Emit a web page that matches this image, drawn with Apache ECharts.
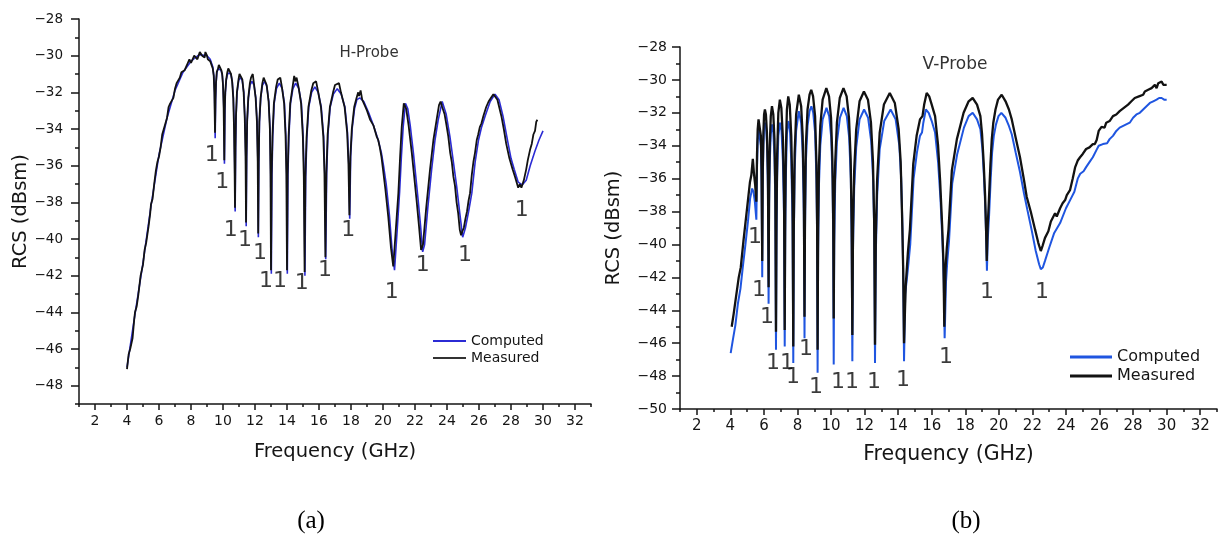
<!DOCTYPE html>
<html>
<head>
<meta charset="utf-8">
<script src="https://cdn.jsdelivr.net/npm/echarts@6/dist/echarts.min.js"></script>
<style>html,body{margin:0;padding:0;background:#fff}#c{width:1224px;height:548px}</style>
</head>
<body>
<div id="c"></div>
<script>
// ---------- data ----------
const xMajorTicks = [2,4,6,8,10,12,14,16,18,20,22,24,26,28,30,32];
const xMinorTicks = [1,3,5,7,9,11,13,15,17,19,21,23,25,27,29,31,33];
const hYMajorTicks = [-48,-46,-44,-42,-40,-38,-36,-34,-32,-30,-28];
const hYMinorTicks = [-49,-47,-45,-43,-41,-39,-37,-35,-33,-31,-29];
const vYMajorTicks = [-50,-48,-46,-44,-42,-40,-38,-36,-34,-32,-30,-28];
const vYMinorTicks = [-49,-47,-45,-43,-41,-39,-37,-35,-33,-31,-29];

// H-Probe computed [GHz, dBsm]
const hComputed = [[4.0,-47.0],[4.5,-44.1],[5.0,-41.3],[5.5,-38.2],[6.0,-35.4],[6.5,-33.4],[7.0,-31.9],[7.5,-30.9],[8.0,-30.3],[8.5,-29.95],[9.0,-30.0],[9.2,-30.2],[9.36,-30.6],[9.43,-31.1],[9.47,-32.0],[9.51,-34.5],
[9.54,-32.4],[9.57,-31.5],[9.62,-30.9],[9.7,-30.7],[9.79,-30.7],[9.88,-30.8],[9.96,-31.1],[10.01,-31.7],[10.05,-32.9],[10.09,-35.9],
[10.12,-33.0],[10.15,-32.0],[10.21,-31.3],[10.3,-30.95],[10.39,-30.9],[10.49,-31.0],[10.58,-31.4],[10.65,-32.3],[10.7,-34.0],[10.73,-35.9],[10.76,-38.5],
[10.79,-35.0],[10.82,-33.3],[10.88,-32.0],[10.98,-31.35],[11.09,-31.2],[11.2,-31.35],[11.3,-32.0],[11.37,-33.4],[11.42,-35.5],[11.45,-39.3],
[11.48,-35.5],[11.52,-33.5],[11.59,-32.3],[11.69,-31.6],[11.81,-31.4],[11.94,-31.6],[12.05,-32.3],[12.13,-33.6],[12.18,-35.8],[12.21,-39.9],
[12.24,-35.8],[12.28,-33.6],[12.36,-32.3],[12.47,-31.6],[12.61,-31.4],[12.74,-31.7],[12.86,-32.5],[12.94,-34.0],[12.98,-36.5],[13.02,-41.9],
[13.06,-36.5],[13.11,-34.4],[13.2,-32.6],[13.34,-31.8],[13.52,-31.5],[13.7,-31.8],[13.84,-32.6],[13.93,-34.4],[13.98,-36.5],[14.02,-41.9],
[14.06,-36.5],[14.12,-34.4],[14.22,-32.6],[14.37,-31.8],[14.54,-31.5],[14.74,-31.8],[14.9,-32.6],[15.01,-34.4],[15.07,-36.6],[15.12,-42.0],
[15.17,-36.6],[15.24,-34.5],[15.36,-32.8],[15.54,-32.0],[15.74,-31.7],[15.95,-32.0],[16.14,-32.8],[16.29,-34.4],[16.36,-36.4],[16.42,-41.1],
[16.48,-36.4],[16.56,-34.3],[16.7,-32.8],[16.9,-32.1],[17.14,-31.8],[17.39,-32.1],[17.62,-32.8],[17.78,-34.2],[17.86,-35.9],[17.92,-38.9],
[17.98,-35.5],[18.07,-34.0],[18.22,-32.9],[18.37,-32.4],[18.55,-32.3],[18.8,-32.5],[19.1,-33.1],[19.4,-33.8],[19.7,-34.6],[19.9,-35.3],[20.05,-36.1],[20.2,-37.0],[20.4,-38.7],[20.56,-40.5],[20.72,-41.7],
[20.88,-39.6],[21.04,-37.4],[21.15,-35.5],[21.26,-33.9],[21.4,-32.6],[21.55,-32.9],[21.7,-33.8],[21.9,-35.3],[22.05,-36.6],[22.2,-37.9],[22.35,-39.3],[22.48,-40.7],[22.6,-40.3],[22.8,-38.3],[23.04,-36.2],[23.25,-34.6],[23.45,-33.5],[23.7,-32.5],[23.95,-33.2],[24.18,-34.4],[24.4,-35.8],[24.6,-37.1],[24.8,-38.6],[24.98,-39.9],[25.15,-39.4],[25.35,-38.5],[25.55,-37.5],[25.76,-35.8],[25.97,-34.6],[26.16,-33.9],[26.38,-33.3],[26.7,-32.5],[27.0,-32.1],[27.25,-32.4],[27.5,-33.3],[27.8,-34.7],[28.0,-35.6],[28.2,-36.2],[28.45,-36.9],[28.7,-37.05],[28.95,-36.8],[29.2,-36.0],[29.5,-35.2],[29.75,-34.6],[30.0,-34.1]];

// H-Probe measured
const hMeasured = [[4.0,-47.1],[4.1,-46.3],[4.2,-46.0],[4.35,-45.4],[4.45,-44.4],[4.5,-44.0],[4.6,-43.7],[4.7,-43.1],[4.85,-42.0],[4.92,-41.9],[5.0,-41.4],[5.1,-40.6],[5.2,-40.2],[5.35,-39.3],[5.45,-38.6],[5.5,-38.1],[5.6,-37.8],[5.7,-37.0],[5.8,-36.3],[5.9,-35.8],[6.0,-35.5],[6.1,-35.0],[6.2,-34.3],[6.3,-34.0],[6.4,-33.7],[6.5,-33.4],[6.6,-32.8],[6.7,-32.6],[6.8,-32.5],[6.9,-32.3],[7.0,-31.8],[7.1,-31.5],[7.2,-31.4],[7.3,-31.2],[7.4,-30.9],[7.5,-30.8],[7.6,-30.8],[7.7,-30.6],[7.8,-30.4],[7.9,-30.2],[8.0,-30.4],[8.1,-30.3],[8.2,-30.0],[8.3,-29.9],[8.4,-30.2],[8.45,-30.1],[8.55,-29.8],[8.6,-29.7],[8.7,-30.0],[8.75,-29.9],[8.85,-30.1],[8.9,-29.8],[9.0,-30.0],[9.05,-30.2],[9.15,-30.1],[9.2,-30.3],[9.3,-30.4],[9.36,-30.7],[9.42,-31.1],[9.46,-32.0],[9.5,-34.2],
[9.53,-32.4],[9.56,-31.5],[9.61,-30.9],[9.69,-30.7],[9.74,-30.5],[9.78,-30.6],[9.84,-30.5],[9.9,-30.8],[9.95,-31.0],[10.0,-31.6],[10.04,-32.8],[10.08,-35.7],
[10.11,-33.0],[10.14,-32.0],[10.2,-31.3],[10.27,-30.9],[10.33,-30.7],[10.38,-30.8],[10.44,-30.7],[10.5,-31.0],[10.57,-31.4],[10.64,-32.3],[10.69,-34.0],[10.72,-35.8],[10.75,-38.3],
[10.78,-35.0],[10.81,-33.3],[10.87,-32.0],[10.97,-31.3],[11.03,-31.0],[11.08,-31.1],[11.14,-30.9],[11.21,-31.3],[11.29,-32.0],[11.36,-33.4],[11.41,-35.5],[11.44,-39.1],
[11.47,-35.5],[11.51,-33.5],[11.58,-32.3],[11.68,-31.5],[11.75,-31.2],[11.8,-31.3],[11.86,-31.0],[11.93,-31.5],[12.04,-32.3],[12.12,-33.6],[12.17,-35.8],[12.2,-39.7],
[12.23,-35.8],[12.27,-33.6],[12.35,-32.3],[12.46,-31.5],[12.54,-31.2],[12.6,-31.3],[12.66,-31.1],[12.73,-31.6],[12.85,-32.5],[12.93,-34.0],[12.97,-36.5],[13.0,-41.7],
[13.04,-36.5],[13.09,-34.4],[13.18,-32.6],[13.32,-31.7],[13.42,-31.3],[13.5,-31.4],[13.58,-31.2],[13.68,-31.7],[13.82,-32.6],[13.91,-34.4],[13.96,-36.5],[14.0,-41.7],
[14.04,-36.5],[14.1,-34.4],[14.2,-32.6],[14.35,-31.7],[14.45,-31.1],[14.52,-31.4],[14.6,-31.2],[14.72,-31.7],[14.88,-32.6],[14.99,-34.4],[15.05,-36.6],[15.1,-41.8],
[15.15,-36.6],[15.22,-34.5],[15.34,-32.8],[15.52,-31.9],[15.64,-31.5],[15.72,-31.6],[15.82,-31.4],[15.93,-31.9],[16.12,-32.8],[16.27,-34.4],[16.34,-36.4],[16.4,-41.0],
[16.46,-36.4],[16.54,-34.3],[16.68,-32.8],[16.88,-32.0],[17.0,-31.6],[17.12,-31.7],[17.25,-31.5],[17.37,-32.0],[17.6,-32.8],[17.76,-34.2],[17.84,-35.9],[17.9,-38.7],
[17.96,-35.5],[18.05,-34.0],[18.2,-32.8],[18.35,-32.3],[18.45,-32.0],[18.5,-32.2],[18.6,-31.9],[18.7,-32.4],[18.8,-32.3],[18.9,-32.8],[19.0,-33.0],[19.1,-32.9],[19.2,-33.5],[19.3,-33.4],[19.4,-33.8],[19.5,-34.1],[19.6,-34.4],[19.7,-34.6],[19.8,-35.0],[19.9,-35.5],[20.0,-36.2],[20.15,-37.3],[20.33,-38.8],[20.5,-40.5],[20.64,-41.5],
[20.8,-39.5],[20.96,-37.5],[21.07,-35.5],[21.17,-33.9],[21.3,-32.6],[21.38,-32.7],[21.45,-32.9],[21.6,-33.8],[21.8,-35.3],[21.95,-36.6],[22.1,-37.9],[22.25,-39.3],[22.38,-40.6],[22.5,-40.3],[22.7,-38.3],[22.94,-36.2],[23.15,-34.6],[23.35,-33.5],[23.5,-32.7],[23.6,-32.5],[23.7,-32.8],[23.85,-33.2],[23.95,-33.7],[24.08,-34.4],[24.2,-35.3],[24.3,-35.8],[24.4,-36.6],[24.5,-37.1],[24.6,-38.0],[24.7,-38.6],[24.8,-39.5],[24.88,-39.8],[24.95,-39.6],[25.05,-39.4],[25.15,-38.9],[25.25,-38.5],[25.35,-37.9],[25.44,-37.5],[25.55,-36.5],[25.65,-35.8],[25.75,-35.3],[25.86,-34.6],[25.95,-34.3],[26.05,-33.9],[26.15,-33.7],[26.27,-33.3],[26.45,-32.8],[26.6,-32.5],[26.75,-32.3],[26.9,-32.1],[27.0,-32.2],[27.15,-32.4],[27.4,-33.3],[27.55,-34.0],[27.7,-34.8],[27.9,-35.6],[28.1,-36.2],[28.25,-36.6],[28.35,-36.9],[28.45,-37.2],[28.55,-37.0],[28.65,-37.2],[28.8,-36.8],[28.95,-36.2],[29.05,-35.7],[29.2,-35.1],[29.3,-34.8],[29.4,-34.3],[29.5,-34.1],[29.58,-33.6],[29.65,-33.5]];

// V-Probe computed
const vComputed = [[4.02,-46.6],[4.15,-45.8],[4.3,-44.9],[4.45,-43.6],[4.6,-42.7],[4.75,-41.3],[4.9,-40.0],[5.05,-38.6],[5.18,-37.2],[5.3,-36.6],[5.38,-36.8],[5.46,-37.4],[5.55,-38.5],
[5.59,-35.3],[5.63,-33.7],[5.68,-33.0],[5.72,-32.9],[5.77,-33.1],[5.82,-34.0],[5.86,-36.2],[5.9,-42.0],
[5.93,-36.3],[5.97,-34.0],[6.01,-32.9],[6.07,-32.6],[6.13,-32.9],[6.19,-34.0],[6.24,-36.6],[6.28,-43.6],
[6.31,-37.5],[6.35,-35.0],[6.41,-33.3],[6.49,-32.7],[6.56,-33.2],[6.63,-34.7],[6.68,-37.5],[6.72,-46.4],
[6.75,-39.6],[6.79,-35.9],[6.86,-33.4],[6.96,-32.6],[7.05,-33.1],[7.13,-34.9],[7.2,-38.3],[7.24,-46.2],
[7.27,-39.3],[7.31,-35.8],[7.37,-33.3],[7.46,-32.5],[7.55,-33.0],[7.63,-34.9],[7.71,-38.8],[7.75,-47.2],
[7.78,-40.0],[7.83,-35.5],[7.92,-33.1],[8.08,-31.9],[8.22,-32.6],[8.31,-34.4],[8.38,-38.2],[8.42,-45.7],
[8.45,-39.0],[8.5,-35.0],[8.6,-32.8],[8.72,-31.9],[8.83,-31.6],[8.94,-32.0],[9.05,-33.2],[9.13,-36.0],[9.17,-39.5],[9.2,-47.8],
[9.23,-40.5],[9.28,-36.4],[9.36,-34.0],[9.5,-32.4],[9.73,-31.7],[9.89,-32.2],[10.01,-33.5],[10.09,-36.0],[10.13,-39.8],[10.16,-47.3],
[10.19,-40.0],[10.25,-36.2],[10.35,-33.8],[10.53,-32.3],[10.75,-31.7],[10.94,-32.2],[11.08,-33.5],[11.18,-36.0],[11.23,-40.0],[11.27,-47.1],
[11.31,-40.2],[11.38,-36.6],[11.5,-34.1],[11.7,-32.4],[11.97,-31.8],[12.21,-32.3],[12.39,-33.7],[12.51,-36.1],[12.58,-39.6],[12.62,-47.2],
[12.67,-40.5],[12.75,-37.0],[12.9,-34.2],[13.17,-32.5],[13.55,-31.8],[13.85,-32.4],[14.07,-34.0],[14.18,-36.0],[14.26,-39.1],[14.31,-42.5],[14.35,-47.1],
[14.42,-43.0],[14.58,-41.5],[14.72,-40.0],[14.92,-36.0],[15.12,-34.4],[15.3,-33.4],[15.42,-33.2],[15.5,-32.6],[15.65,-31.8],[15.82,-32.0],[16.0,-32.5],[16.2,-33.2],[16.38,-35.0],[16.52,-37.2],[16.64,-39.8],[16.72,-42.3],[16.77,-45.7],
[16.85,-42.3],[16.93,-41.0],[17.03,-39.8],[17.22,-36.3],[17.52,-34.5],[17.92,-32.9],[18.2,-32.2],[18.44,-32.0],[18.7,-32.4],[18.9,-33.0],[19.02,-34.2],[19.12,-36.0],[19.2,-38.0],[19.25,-39.8],[19.29,-41.6],[19.34,-39.7],[19.42,-38.2],[19.52,-35.9],[19.6,-34.4],[19.7,-33.4],[19.83,-32.7],[19.98,-32.2],[20.15,-32.0],[20.4,-32.3],[20.6,-32.8],[20.77,-33.3],[21.0,-34.4],[21.26,-35.6],[21.5,-36.9],[21.7,-37.9],[21.95,-39.1],[22.2,-40.4],[22.4,-41.2],[22.5,-41.5],[22.62,-41.4],[22.75,-41.0],[23.0,-40.2],[23.3,-39.3],[23.65,-38.7],[24.0,-37.8],[24.3,-37.2],[24.5,-36.8],[24.7,-36.0],[24.85,-35.7],[25.05,-35.55],[25.2,-35.3],[25.4,-35.0],[25.6,-34.7],[25.8,-34.3],[25.95,-34.0],[26.2,-33.9],[26.45,-33.85],[26.6,-33.6],[26.8,-33.4],[27.0,-33.1],[27.2,-32.9],[27.5,-32.75],[27.8,-32.6],[28.0,-32.3],[28.2,-32.1],[28.4,-32.0],[28.6,-31.8],[28.8,-31.6],[29.0,-31.4],[29.2,-31.3],[29.4,-31.2],[29.55,-31.1],[29.7,-31.1],[29.85,-31.2],[30.0,-31.2]];

// V-Probe measured
const vMeasured = [[4.08,-45.0],[4.2,-44.2],[4.35,-43.1],[4.5,-42.0],[4.62,-41.4],[4.78,-39.8],[4.92,-38.5],[5.05,-37.3],[5.17,-36.2],[5.25,-35.8],[5.34,-34.8],[5.4,-35.6],[5.48,-36.4],[5.55,-37.4],
[5.59,-34.5],[5.63,-33.0],[5.68,-32.4],[5.72,-32.3],[5.77,-32.5],[5.82,-33.4],[5.86,-35.5],[5.9,-41.0],
[5.93,-35.5],[5.97,-33.2],[6.01,-32.1],[6.06,-31.8],[6.12,-32.1],[6.18,-33.2],[6.24,-35.8],[6.28,-42.6],
[6.31,-36.5],[6.35,-34.0],[6.41,-32.2],[6.48,-31.6],[6.56,-32.1],[6.63,-33.6],[6.68,-36.5],[6.72,-45.3],
[6.75,-38.5],[6.79,-34.5],[6.86,-32.0],[6.95,-31.2],[7.04,-31.7],[7.13,-33.5],[7.2,-37.0],[7.24,-45.2],
[7.27,-38.0],[7.31,-34.3],[7.37,-31.8],[7.45,-31.0],[7.54,-31.5],[7.63,-33.4],[7.71,-37.5],[7.75,-46.2],
[7.78,-39.0],[7.83,-34.5],[7.92,-32.1],[8.08,-30.9],[8.22,-31.6],[8.31,-33.4],[8.38,-37.0],[8.42,-44.4],
[8.45,-38.0],[8.5,-34.0],[8.6,-31.8],[8.72,-30.9],[8.82,-30.6],[8.93,-31.0],[9.05,-32.2],[9.13,-35.0],[9.17,-38.5],[9.2,-46.4],
[9.23,-39.0],[9.28,-35.2],[9.36,-32.8],[9.5,-31.2],[9.72,-30.5],[9.88,-31.0],[10.0,-32.3],[10.08,-34.8],[10.13,-38.5],[10.16,-44.5],
[10.19,-38.0],[10.25,-35.0],[10.35,-32.6],[10.52,-31.1],[10.74,-30.5],[10.93,-31.0],[11.07,-32.3],[11.17,-34.8],[11.23,-38.8],[11.27,-45.5],
[11.31,-39.0],[11.38,-35.5],[11.5,-33.0],[11.7,-31.3],[11.96,-30.7],[12.2,-31.2],[12.38,-32.6],[12.5,-35.0],[12.57,-38.5],[12.62,-46.1],
[12.67,-39.5],[12.75,-36.0],[12.9,-33.2],[13.15,-31.5],[13.5,-30.8],[13.8,-31.4],[14.03,-33.0],[14.15,-35.0],[14.23,-38.1],[14.3,-41.5],[14.35,-46.0],
[14.45,-42.5],[14.58,-40.5],[14.7,-39.1],[14.9,-35.1],[15.1,-33.4],[15.3,-32.4],[15.45,-32.2],[15.55,-31.5],[15.7,-30.8],[15.85,-31.0],[16.0,-31.5],[16.2,-32.2],[16.38,-34.0],[16.5,-36.1],[16.62,-38.8],[16.7,-41.1],[16.75,-45.0],
[16.82,-41.5],[16.9,-40.2],[17.0,-39.1],[17.2,-35.5],[17.5,-33.6],[17.9,-32.0],[18.2,-31.3],[18.44,-31.1],[18.7,-31.5],[18.9,-32.2],[19.0,-33.3],[19.1,-35.1],[19.18,-37.0],[19.24,-39.1],[19.28,-41.0],[19.33,-39.0],[19.4,-37.5],[19.5,-35.1],[19.58,-33.6],[19.67,-32.6],[19.8,-31.8],[19.95,-31.2],[20.17,-30.9],[20.4,-31.3],[20.6,-31.8],[20.77,-32.4],[21.0,-33.5],[21.26,-34.7],[21.5,-36.1],[21.66,-37.1],[21.9,-38.0],[22.16,-39.1],[22.35,-39.9],[22.5,-40.4],[22.6,-40.1],[22.75,-39.6],[22.95,-39.2],[23.1,-38.6],[23.2,-38.7],[23.35,-38.1],[23.45,-38.3],[23.65,-37.8],[23.8,-37.5],[23.95,-37.3],[24.05,-37.0],[24.15,-36.9],[24.24,-36.7],[24.4,-36.0],[24.55,-35.3],[24.7,-34.9],[24.84,-34.7],[24.95,-34.7],[25.0,-34.5],[25.1,-34.6],[25.2,-34.2],[25.3,-34.3],[25.4,-34.1],[25.5,-34.1],[25.6,-33.9],[25.72,-33.9],[25.83,-33.65],[25.95,-33.1],[26.05,-33.0],[26.12,-32.85],[26.2,-32.95],[26.3,-32.9],[26.4,-32.6],[26.5,-32.7],[26.6,-32.5],[26.7,-32.5],[26.8,-32.2],[26.9,-32.3],[27.0,-32.1],[27.1,-32.15],[27.2,-31.9],[27.3,-32.0],[27.45,-31.7],[27.55,-31.8],[27.7,-31.5],[27.8,-31.6],[27.9,-31.3],[28.0,-31.4],[28.1,-31.1],[28.2,-31.2],[28.35,-31.0],[28.45,-31.05],[28.6,-30.9],[28.7,-30.7],[28.8,-30.8],[28.9,-30.6],[29.0,-30.7],[29.1,-30.5],[29.2,-30.55],[29.3,-30.3],[29.4,-30.5],[29.5,-30.2],[29.6,-30.3],[29.7,-30.1],[29.8,-30.3],[29.9,-30.2],[30.0,-30.3]];

// "1" null annotations [GHz, dBsm]
const hNullLabels = [[9.29,-35.42],[9.96,-36.88],[10.48,-39.51],[11.38,-40.06],[12.31,-40.78],[12.69,-42.33],[13.56,-42.33],[14.92,-42.42],[16.38,-41.69],[17.83,-39.51],[20.54,-42.88],[22.48,-41.42],[25.13,-40.88],[28.67,-38.42]];
const vNullLabels = [[5.47,-39.55],[5.71,-42.77],[6.18,-44.41],[6.54,-47.2],[7.38,-47.2],[7.73,-48.06],[8.51,-46.36],[9.1,-48.67],[10.42,-48.36],[11.25,-48.36],[12.56,-48.36],[14.29,-48.24],[16.85,-46.84],[19.3,-42.9],[22.57,-42.9]];

const seriesNames = ['Computed', 'Measured'];
const panelTitles = ['H-Probe', 'V-Probe'];
const panelCaptions = ['(a)', '(b)'];
const xName = 'Frequency (GHz)';
const yName = 'RCS (dBsm)';

// ---------- styling / layout ----------
const FONT = 'DejaVu Sans';
const AX = '#151515';
const hBlue = '#2b2bd4';
const vBlue = '#1f55e0';
const black = '#121212';
const fmt = v => String(v).replace('-', '\u2212');

function mainX(grid, min, max, fs, gap, nameFs) {
  return {
    type: 'value', gridIndex: grid, min: min, max: max, position: 'bottom',
    name: xName, nameLocation: 'middle', nameGap: gap,
    nameTextStyle: {fontFamily: FONT, fontSize: nameFs, color: AX},
    axisLine: {show: true, lineStyle: {color: AX, width: 1.5}},
    axisTick: {show: true, customValues: xMajorTicks, length: 6, lineStyle: {color: AX, width: 1.5}},
    axisLabel: {show: true, customValues: xMajorTicks, margin: 10, fontFamily: FONT, fontSize: fs, color: AX, formatter: fmt},
    splitLine: {show: false}
  };
}
function minorX(grid, min, max) {
  return {
    type: 'value', gridIndex: grid, min: min, max: max, position: 'bottom',
    axisLine: {show: false},
    axisTick: {show: true, customValues: xMinorTicks, length: 3, lineStyle: {color: AX, width: 1.5}},
    axisLabel: {show: false}, splitLine: {show: false}
  };
}
function mainY(grid, min, max, ticks, fs, gap, nameFs, margin) {
  return {
    type: 'value', gridIndex: grid, min: min, max: max, position: 'left',
    name: yName, nameLocation: 'middle', nameGap: gap,
    nameTextStyle: {fontFamily: FONT, fontSize: nameFs, color: AX},
    axisLine: {show: true, lineStyle: {color: AX, width: 1.5}},
    axisTick: {show: true, customValues: ticks, length: 8, lineStyle: {color: AX, width: 1.5}},
    axisLabel: {show: true, customValues: ticks, margin: margin, fontFamily: FONT, fontSize: fs, color: AX, formatter: fmt},
    splitLine: {show: false}
  };
}
function minorY(grid, min, max, ticks) {
  return {
    type: 'value', gridIndex: grid, min: min, max: max, position: 'left',
    axisLine: {show: false},
    axisTick: {show: true, customValues: ticks, length: 4, lineStyle: {color: AX, width: 1.5}},
    axisLabel: {show: false}, splitLine: {show: false}
  };
}
function line(name, data, xi, yi, color, w, z) {
  return {type: 'line', name: name, data: data, xAxisIndex: xi, yAxisIndex: yi,
    showSymbol: false, symbol: 'none', smooth: false, z: z,
    lineStyle: {color: color, width: w}, itemStyle: {color: color}};
}
function labels(data, xi, yi, fs) {
  return {type: 'scatter', data: data, xAxisIndex: xi, yAxisIndex: yi, symbolSize: 1, silent: true, z: 5,
    itemStyle: {color: 'rgba(0,0,0,0)'},
    label: {show: true, position: 'inside', formatter: '1', fontFamily: FONT, fontSize: fs, color: '#0a0a0a'}};
}

const chart = echarts.init(document.getElementById('c'), null, {renderer: 'canvas'});
chart.setOption({
  animation: false,
  backgroundColor: '#fff',
  grid: [
    {left: 79, top: 19, width: 512, height: 385, containLabel: false, outerBoundsMode: 'none'},
    {left: 680, top: 47, width: 537, height: 362, containLabel: false, outerBoundsMode: 'none'}
  ],
  xAxis: [mainX(0, 1, 33, 14, 38, 19.5), minorX(0, 1, 33), mainX(1, 1, 33, 15, 35, 20.5), minorX(1, 1, 33)],
  yAxis: [mainY(0, -49, -28, hYMajorTicks, 13.5, 48, 19.5, 16), minorY(0, -49, -28, hYMinorTicks),
          mainY(1, -50, -28, vYMajorTicks, 14, 56, 19.5, 13), minorY(1, -50, -28, vYMinorTicks)],
  legend: [
    {orient: 'vertical', left: 433, top: 334, padding: 0, itemGap: 3, itemWidth: 33, itemHeight: 2, icon: 'rect',
     textStyle: {fontFamily: FONT, fontSize: 14, color: AX}, selectedMode: false,
     data: [{name: seriesNames[0], itemStyle: {color: hBlue}}, {name: seriesNames[1], itemStyle: {color: '#333'}}]},
    {orient: 'vertical', left: 1070, top: 349, padding: 0, itemGap: 3, itemWidth: 42, itemHeight: 3, icon: 'rect',
     textStyle: {fontFamily: FONT, fontSize: 16, color: AX}, selectedMode: false,
     data: [{name: seriesNames[0], itemStyle: {color: vBlue}}, {name: seriesNames[1], itemStyle: {color: black}}]}
  ],
  graphic: [
    {type: 'text', x: 369, y: 53, style: {text: panelTitles[0], fontFamily: FONT, fontSize: 15, fill: '#333', align: 'center', verticalAlign: 'middle'}},
    {type: 'text', x: 955, y: 65, style: {text: panelTitles[1], fontFamily: FONT, fontSize: 17, fill: '#333', align: 'center', verticalAlign: 'middle'}},
    {type: 'text', x: 311, y: 521, style: {text: panelCaptions[0], fontFamily: 'Liberation Serif', fontSize: 25, fill: '#000', align: 'center', verticalAlign: 'middle'}},
    {type: 'text', x: 966, y: 521, style: {text: panelCaptions[1], fontFamily: 'Liberation Serif', fontSize: 25, fill: '#000', align: 'center', verticalAlign: 'middle'}}
  ],
  series: [
    line(seriesNames[0], hComputed, 0, 0, hBlue, 1.6, 2),
    line(seriesNames[1], hMeasured, 0, 0, black, 1.8, 3),
    labels(hNullLabels, 0, 0, 22),
    line(seriesNames[0], vComputed, 2, 2, vBlue, 2, 2),
    line(seriesNames[1], vMeasured, 2, 2, black, 2.3, 3),
    labels(vNullLabels, 2, 2, 22)
  ]
});
</script>
</body>
</html>
